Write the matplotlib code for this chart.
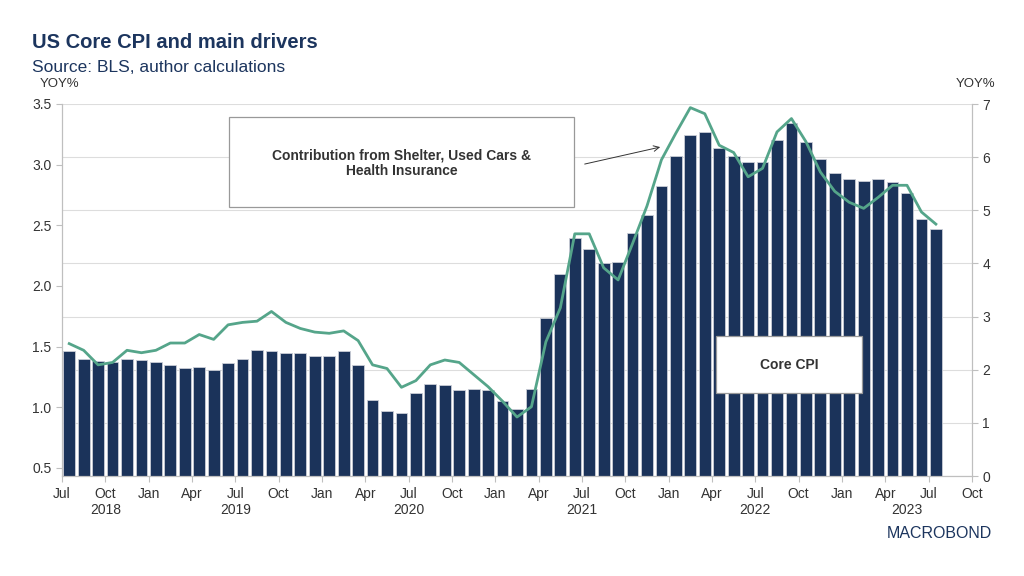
import matplotlib
matplotlib.use('Agg')
import matplotlib.pyplot as plt
from matplotlib.patches import Rectangle

plt.rcParams['font.family'] = ['Liberation Sans', 'DejaVu Sans']

# Monthly data, Jul 2018 .. Jul 2023
core_cpi = [2.35, 2.20, 2.16, 2.14, 2.21, 2.18,
            2.15, 2.08, 2.03, 2.06, 1.99, 2.13, 2.21, 2.38, 2.36, 2.31, 2.31, 2.26,
            2.26, 2.35, 2.09, 1.43, 1.22, 1.18, 1.57, 1.73, 1.71, 1.61, 1.64, 1.62,
            1.41, 1.27, 1.64, 2.97, 3.80, 4.47, 4.27, 4.00, 4.02, 4.57, 4.92, 5.46,
            6.02, 6.42, 6.47, 6.17, 6.02, 5.91, 5.91, 6.32, 6.64, 6.29, 5.96, 5.71,
            5.58, 5.55, 5.59, 5.53, 5.33, 4.83, 4.65]
contribution = [1.525, 1.47, 1.35, 1.37, 1.47, 1.45,
                1.47, 1.53, 1.53, 1.60, 1.56, 1.68, 1.70, 1.71, 1.79, 1.70, 1.65, 1.62,
                1.61, 1.63, 1.55, 1.35, 1.32, 1.165, 1.22, 1.35, 1.39, 1.37, 1.27, 1.17,
                1.05, 0.92, 1.005, 1.54, 1.82, 2.43, 2.43, 2.15, 2.05, 2.35, 2.66, 3.04,
                3.26, 3.47, 3.42, 3.16, 3.10, 2.90, 2.97, 3.27, 3.38, 3.19, 2.94, 2.78,
                2.69, 2.64, 2.73, 2.83, 2.83, 2.61, 2.51]
month_labels = ['Jul', 'Oct', 'Jan', 'Apr'] * 5 + ['Jul', 'Oct']
years = ['2018', '2019', '2020', '2021', '2022', '2023']
year_pos = [3, 12, 24, 36, 48, 58.5]

NAVY = '#1b335a'
GREEN = '#55a58a'
TXT = '#333333'
AXC = '#bfbfbf'

x = [i + 0.5 for i in range(len(core_cpi))]

fig = plt.figure(figsize=(10.24, 5.76), dpi=100)
ax = fig.add_axes([62 / 1024, 1 - 476 / 576, 910 / 1024, 372 / 576])
ax2 = ax.twinx()
ax.set_zorder(ax2.get_zorder() + 1)
ax.patch.set_visible(False)

# bars on right axis (Core CPI)
ax2.bar(x, core_cpi, width=0.82, color=NAVY, edgecolor='#c9cdd6', linewidth=0.6, zorder=2)
ax2.set_ylim(0, 7)
ax2.set_yticks(range(0, 8))
ax2.yaxis.grid(True, color='#dddddd', linewidth=0.8, zorder=0)
ax2.set_axisbelow(True)

# line on left axis (contribution)
ax.plot(x, contribution, color=GREEN, linewidth=2.0, zorder=3)
ax.set_ylim(0.434, 3.5)
ax.set_yticks([0.5, 1.0, 1.5, 2.0, 2.5, 3.0, 3.5])
ax.set_yticklabels(['0.5', '1.0', '1.5', '2.0', '2.5', '3.0', '3.5'])

ax.set_xlim(0, 63)
ax.set_xticks(range(0, 64, 3))
ax.set_xticklabels(month_labels)

for a in (ax, ax2):
    a.spines['top'].set_visible(False)
    for s in ('left', 'right', 'bottom'):
        a.spines[s].set_color(AXC)
        a.spines[s].set_linewidth(0.8)
    a.tick_params(colors=AXC, labelcolor=TXT, labelsize=10, length=4, width=0.8)
ax.tick_params(axis='x', pad=4)

for yr, p in zip(years, year_pos):
    ax.text(p, -0.092, yr, transform=ax.get_xaxis_transform(), ha='center', va='center',
            fontsize=10, color=TXT)

fig.text(40 / 1024, 1 - 84 / 576, 'YOY%', ha='left', va='center', fontsize=9.5, color=TXT)
fig.text(995 / 1024, 1 - 84 / 576, 'YOY%', ha='right', va='center', fontsize=9.5, color=TXT)

fig.text(32 / 1024, 1 - 43 / 576, 'US Core CPI and main drivers', fontsize=14.5,
         fontweight='bold', color='#1c355e', va='center')
fig.text(32 / 1024, 1 - 67 / 576, 'Source: BLS, author calculations', fontsize=12.5,
         color='#1c355e', va='center')
fig.text(992 / 1024, 1 - 533 / 576, 'MACROBOND', fontsize=11.5, color='#1c355e',
         ha='right', va='center')

# annotation boxes
ax.add_patch(Rectangle((11.59, 2.654), 23.89, 0.737, facecolor='white', edgecolor='#999999',
                       linewidth=0.9, zorder=5))
ax.text(23.5, 3.01, 'Contribution from Shelter, Used Cars &\nHealth Insurance', ha='center',
        va='center', fontsize=10, fontweight='bold', color=TXT, zorder=6, linespacing=1.15)
ax.annotate('', xy=(41.6, 3.15), xytext=(36.0, 3.0),
            arrowprops=dict(arrowstyle='->', color=TXT, lw=0.7), zorder=6)

ax.add_patch(Rectangle((45.3, 1.116), 10.1, 0.472, facecolor='white', edgecolor='#999999',
                       linewidth=0.9, zorder=5))
ax.text(50.35, 1.35, 'Core CPI', ha='center', va='center', fontsize=10,
        fontweight='bold', color=TXT, zorder=6)

fig.savefig('out.png', dpi=100)
